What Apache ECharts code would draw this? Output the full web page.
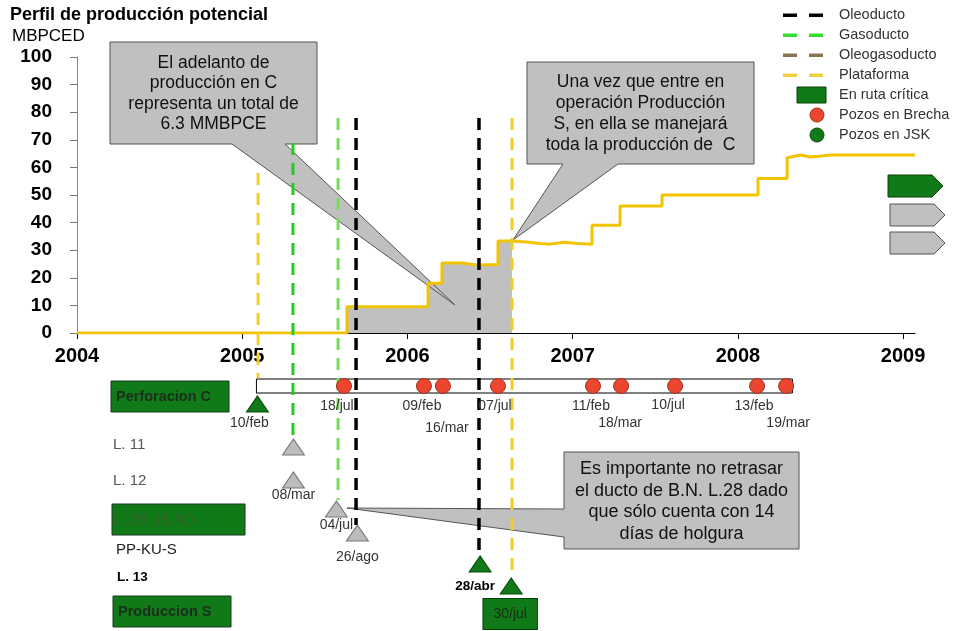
<!DOCTYPE html>
<html><head><meta charset="utf-8">
<script src="https://cdn.jsdelivr.net/npm/echarts@6.0.0/dist/echarts.min.js"></script>
<style>html,body{margin:0;padding:0;background:#fff}#c{width:964px;height:631px}</style>
</head><body><div id="c"></div>
<script>
// ---------- DATA ----------
const yearTicks = [2004, 2005, 2006, 2007, 2008, 2009];
const yTicks = [0, 10, 20, 30, 40, 50, 60, 70, 80, 90, 100];

// Production profile (decimal year, MBPCED)
const prodX = [2004, 2005.634, 2005.634, 2006.125, 2006.125, 2006.209, 2006.209, 2006.33, 2006.42, 2006.548, 2006.548, 2006.633, 2006.72, 2006.80, 2006.863, 2006.95, 2007.03, 2007.117, 2007.117, 2007.287, 2007.287, 2007.541, 2007.541, 2008.122, 2008.122, 2008.298, 2008.298, 2008.38, 2008.437, 2008.49, 2008.558, 2009.072];
const prodY = [0, 0, 9.5, 9.5, 18, 18, 25.4, 25.4, 24.6, 24.8, 33.3, 33.3, 33.0, 32.4, 32.2, 32.9, 32.4, 32.2, 39, 39, 46, 46, 50, 50, 56, 56, 63.5, 64.5, 63.8, 64.0, 64.5, 64.5];

// Adelanto de producción (shaded)
const adelantoX = [2005.634, 2006.125, 2006.125, 2006.209, 2006.209, 2006.33, 2006.42, 2006.548, 2006.548, 2006.633];
const adelantoY = [9.5, 9.5, 18, 18, 25.4, 25.4, 24.6, 24.8, 33.3, 33.3];

// Vertical milestone lines
const vlineX = [2005.096, 2005.307, 2005.58, 2005.689, 2006.433, 2006.633];
const vlineKind = ['Plataforma', 'Gasoducto', 'Gasoducto2', 'Oleoducto', 'Oleoducto', 'Plataforma'];

// Perforación C timeline
const barStart = 2005.086, barEnd = 2008.33;
const pozosX = [2005.616, 2006.100, 2006.215, 2006.548, 2007.123, 2007.293, 2007.620, 2008.116, 2008.292];
const pozosLabel = ['18/jul', '09/feb', '16/mar', '07/jul', '11/feb', '18/mar', '10/jul', '13/feb', '19/mar'];

// Hitos (triangles)
const hitosX = [2005.092, 2005.31, 2005.31, 2005.57, 2005.697, 2006.44, 2006.628];
const hitosLabel = ['10/feb', '', '08/mar', '04/jul', '26/ago', '28/abr', '30/jul'];
const hitosCritica = [true, false, false, false, false, true, true];
const hitosRow = ['perf', 'L11', 'L12', 'L28', 'PPKUS', 'L13', 'ProdS'];

// ---------- LAYOUT / STYLE ----------
const FONT = '"Liberation Sans", Arial, sans-serif';
const rowY = {bar: 386, perf: 404, L11: 447, L12: 480, L28: 509, PPKUS: 533, L13: 564, ProdS: 586};
const barTop = 379, barBottom = 393;
const vlineExtent = [[173, 378], [143, 445], [118, 500], [118, 525], [118, 556], [118, 578]];
const vlineStyle = {
  Plataforma: {color: '#f3cc2a', width: 3},
  Gasoducto: {color: '#22cc22', width: 3},
  Gasoducto2: {color: '#77dd55', width: 3},
  Oleoducto: {color: '#000000', width: 3.5}
};
const pozosOffset = [[-7, 20], [-2, 20], [4, 42], [-3, 20], [-2, 20], [-1, 37], [-7, 19], [-3, 20], [2, 37]];
const hitosOffset = [[-8, 19], [0, 0], [0, 15], [0, 16], [0, 24], [-5, 22], [-1, 28]];
const GREEN = '#0f7a17';

const chart = echarts.init(document.getElementById('c'), null, {renderer: 'canvas'});

function zip(a, b) { return a.map((v, i) => [v, b[i]]); }

function txt(x, y, text, size, o) {
  o = o || {};
  return {type: 'text', x: x, y: y, z: o.z || 10, silent: true,
    style: {text: text, font: (o.bold ? 'bold ' : '') + size + 'px ' + FONT, fill: o.color || '#000',
      align: o.align || 'left', verticalAlign: 'middle', textAlign: o.align || 'left', textVerticalAlign: 'middle',
      lineHeight: o.lh || size * 1.2}};
}
function rect(x, y, w, h, fill, stroke, z) {
  return {type: 'rect', z: z || 5, silent: true, shape: {x: x, y: y, width: w, height: h}, style: {fill: fill, stroke: stroke, lineWidth: 1}};
}
function poly(points, fill, stroke, z) {
  return {type: 'polygon', z: z || 5, silent: true, shape: {points: points}, style: {fill: fill, stroke: stroke, lineWidth: 1}};
}

const series = [];
// Shaded adelanto
series.push({type: 'line', xAxisIndex: 0, yAxisIndex: 0, data: zip(adelantoX, adelantoY), symbol: 'none',
  lineStyle: {color: '#444', width: 1}, areaStyle: {color: '#c0c0c0', opacity: 1}, z: 2, silent: true, animation: false});
// Production line
series.push({type: 'line', xAxisIndex: 0, yAxisIndex: 0, data: zip(prodX, prodY), symbol: 'none',
  lineStyle: {color: '#f2c300', width: 3}, z: 3, silent: true, animation: false});

// Timeline bar
series.push({type: 'custom', xAxisIndex: 1, yAxisIndex: 1, data: [[barStart, barEnd]], z: 2, silent: true, animation: false,
  renderItem: function (params, api) {
    const p0 = api.coord([api.value(0), barTop]);
    const p1 = api.coord([api.value(1), barBottom]);
    return {type: 'rect', shape: {x: p0[0], y: p0[1], width: p1[0] - p0[0], height: p1[1] - p0[1]},
      style: {fill: '#fff', stroke: '#000', lineWidth: 1}};
  }});

// Vertical dashed lines
vlineX.forEach((x, i) => {
  const st = vlineStyle[vlineKind[i]];
  series.push({type: 'line', xAxisIndex: 1, yAxisIndex: 1, data: [[x, vlineExtent[i][0]], [x, vlineExtent[i][1]]],
    symbol: 'none', z: 4, silent: true, animation: false,
    lineStyle: {color: st.color, width: st.width, type: [12, 8]}});
});

// Pozos en Brecha
series.push({type: 'scatter', xAxisIndex: 1, yAxisIndex: 1, z: 6, silent: true, animation: false,
  data: pozosX.map((x, i) => ({value: [x, rowY.bar],
    label: {show: true, formatter: pozosLabel[i], position: 'inside', offset: pozosOffset[i],
      fontSize: 14, fontFamily: FONT, color: '#333'}})),
  symbol: 'circle', symbolSize: 15,
  itemStyle: {color: '#ea4630', borderColor: '#a3301e', borderWidth: 1, opacity: 1}});

// Hitos
series.push({type: 'scatter', xAxisIndex: 1, yAxisIndex: 1, z: 6, silent: true, animation: false,
  data: hitosX.map((x, i) => {
    const crit = hitosCritica[i];
    const lab = hitosLabel[i];
    const label = {show: !!lab, formatter: lab, position: 'inside', offset: hitosOffset[i],
      fontSize: 14, fontFamily: FONT, color: '#333'};
    if (lab === '28/abr') { label.fontWeight = 'bold'; label.color = '#000'; label.fontSize = 13.5; }
    if (lab === '30/jul') {
      label.backgroundColor = GREEN; label.borderColor = '#0a3f0a'; label.borderWidth = 1;
      label.padding = [8, 10]; label.color = '#1c2a1c';
    }
    return {value: [x, rowY[hitosRow[i]]], symbol: 'triangle', symbolSize: [22, 16],
      itemStyle: {color: crit ? GREEN : '#bcbcbc', borderColor: crit ? '#0a4a0a' : '#777', borderWidth: 1, opacity: 1},
      label: label};
  })});

// ---------- GRAPHICS (annotations) ----------
const g = [];
g.push(txt(10, 15, 'Perfil de producción potencial', 18, {bold: true}));
g.push(txt(12, 36, 'MBPCED', 17));

// Legend
const legendDash = [['#000', 'Oleoducto'], ['#33dd33', 'Gasoducto'], ['#8c7350', 'Oleogasoducto'], ['#f0d040', 'Plataforma']];
legendDash.forEach((d, i) => {
  const y = 15 + i * 20;
  g.push(rect(783, y - 1.5, 14, 3.5, d[0], null, 10));
  g.push(rect(809, y - 1.5, 14, 3.5, d[0], null, 10));
  g.push(txt(839, y, d[1], 14.5, {color: '#333'}));
});
g.push(rect(797, 87, 29, 16, GREEN, '#0a3f0a', 10));
g.push(txt(839, 95, 'En ruta crítica', 14.5, {color: '#333'}));
g.push({type: 'circle', z: 10, silent: true, shape: {cx: 817, cy: 115, r: 7}, style: {fill: '#ea4630', stroke: '#a3301e'}});
g.push(txt(839, 115, 'Pozos en Brecha', 14.5, {color: '#333'}));
g.push({type: 'circle', z: 10, silent: true, shape: {cx: 817, cy: 135, r: 7}, style: {fill: GREEN, stroke: '#0a4a0a'}});
g.push(txt(839, 135, 'Pozos en JSK', 14.5, {color: '#333'}));

// Right arrows
g.push(poly([[888, 175], [932, 175], [943, 186], [932, 197], [888, 197]], GREEN, '#0a3f0a', 10));
g.push(poly([[890, 204], [934, 204], [945, 215], [934, 226], [890, 226]], '#c0c0c0', '#555', 10));
g.push(poly([[890, 232], [934, 232], [945, 243], [934, 254], [890, 254]], '#c0c0c0', '#555', 10));

// Row labels
g.push(rect(111, 381, 118, 31, GREEN, '#1a3a1a', 5));
g.push(txt(116, 396.5, 'Perforacion C', 14.5, {bold: true, color: '#1c2e1c'}));
g.push(txt(113, 445, 'L. 11', 15, {color: '#555'}));
g.push(txt(113, 481, 'L. 12', 15, {color: '#555'}));
g.push(rect(112, 504, 133, 31, GREEN, '#1a3a1a', 5));
g.push(txt(113, 520, 'L. 28  (B.N.)', 15, {color: '#3c5a2e'}));
g.push(txt(116, 550, 'PP-KU-S', 15, {color: '#222'}));
g.push(txt(117, 577, 'L. 13', 13.5, {bold: true, color: '#000'}));
g.push(rect(113, 596, 118, 31, GREEN, '#1a3a1a', 5));
g.push(txt(118, 611.5, 'Produccion S', 14.5, {bold: true, color: '#1c2e1c'}));

// Callouts
const cFill = '#c0c0c0', cStroke = '#555';
g.push(poly([[110, 42], [317, 42], [317, 144], [285, 144], [455, 305], [232, 144], [110, 144]], cFill, cStroke, 2.5));
g.push(txt(213.5, 93.5, 'El adelanto de\nproducción en C\nrepresenta un total de\n6.3 MMBPCE', 17.5, {align: 'center', lh: 20.5, color: '#111', z: 2.6}));
g.push(poly([[527, 62], [754, 62], [754, 164], [618, 164], [513, 240], [563, 164], [527, 164]], cFill, cStroke, 1));
g.push(txt(640.5, 114, 'Una vez que entre en\noperación Producción\nS, en ella se manejará\ntoda la producción de  C', 17.5, {align: 'center', lh: 21, color: '#111', z: 1.1}));
g.push(poly([[564, 452], [799, 452], [799, 549], [564, 549], [564, 537], [347, 508], [564, 509]], cFill, cStroke, 1));
g.push(txt(681.5, 501.5, 'Es importante no retrasar\nel ducto de B.N. L.28 dado\nque sólo cuenta con 14\ndías de holgura', 18, {align: 'center', lh: 21.8, color: '#111', z: 1.1}));

const xMin = yearTicks[0], xMax = 2009.072;
const option = {
  animation: false,
  backgroundColor: '#fff',
  grid: [
    {left: 77, right: 49, top: 57, bottom: 298, containLabel: false, outerBoundsMode: 'none'},
    {left: 77, right: 49, top: 0, bottom: 0, containLabel: false, outerBoundsMode: 'none'}
  ],
  xAxis: [
    {type: 'value', gridIndex: 0, min: xMin, max: xMax, interval: 1,
      axisLine: {show: true, onZero: false, lineStyle: {color: '#000', width: 1}},
      axisTick: {show: true, inside: false, length: 6, lineStyle: {color: '#000'}},
      axisLabel: {show: true, margin: 13, fontSize: 20, fontWeight: 'bold', fontFamily: FONT, color: '#000',
        formatter: v => (yearTicks.indexOf(v) >= 0 ? String(v) : ''), showMaxLabel: false},
      splitLine: {show: false}},
    {type: 'value', gridIndex: 1, min: xMin, max: xMax, show: false}
  ],
  yAxis: [
    {type: 'value', gridIndex: 0, min: yTicks[0], max: yTicks[yTicks.length - 1], interval: 10,
      axisLine: {show: true, lineStyle: {color: '#888', width: 1}},
      axisTick: {show: true, inside: false, length: 7, lineStyle: {color: '#777'}},
      axisLabel: {show: true, margin: 25, fontSize: 19, fontWeight: 'bold', fontFamily: FONT, color: '#000'},
      splitLine: {show: false}},
    {type: 'value', gridIndex: 1, min: 0, max: 631, inverse: true, show: false}
  ],
  series: series,
  graphic: {elements: g}
};
chart.setOption(option);
</script>
</body></html>
